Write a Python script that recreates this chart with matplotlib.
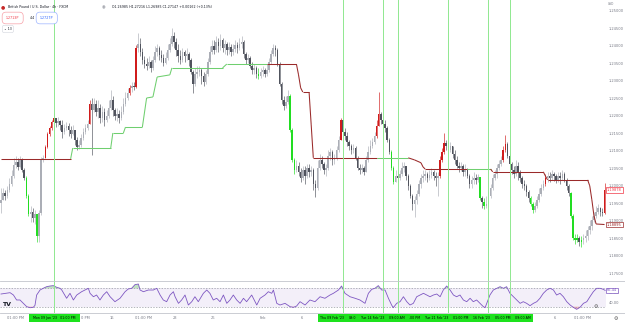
import matplotlib
matplotlib.use('Agg')
import matplotlib.pyplot as plt
import matplotlib.transforms as mtransforms
from matplotlib.patches import Rectangle

# ---------------- data ----------------
first_open = 1.1950
closes = [1.1960, 1.1980, 1.1971, 1.1988, 1.2005, 1.2028, 1.2060, 1.2068, 1.2054, 1.2074,
          1.2045, 1.2022, 1.1971, 1.1920, 1.1925, 1.1908, 1.1920, 1.1857, 1.1922, 1.2074,
          1.2080, 1.2111, 1.2148, 1.2165, 1.2182, 1.2194, 1.2180, 1.2185, 1.2174, 1.2154,
          1.2165, 1.2171, 1.2160, 1.2148, 1.2160, 1.2131, 1.2111, 1.2117, 1.2137, 1.2154,
          1.2165, 1.2177, 1.2234, 1.2217, 1.2234, 1.2211, 1.2222, 1.2194, 1.2211, 1.2188,
          1.2200, 1.2222, 1.2245, 1.2217, 1.2200, 1.2205, 1.2194, 1.2211, 1.2234, 1.2251,
          1.2265, 1.2280, 1.2285, 1.2282, 1.2394, 1.2405, 1.2382, 1.2360, 1.2348, 1.2342,
          1.2354, 1.2337, 1.2360, 1.2382, 1.2394, 1.2374, 1.2365, 1.2351, 1.2365, 1.2388,
          1.2405, 1.2428, 1.2411, 1.2388, 1.2371, 1.2360, 1.2382, 1.2371, 1.2377, 1.2360,
          1.2325, 1.2291, 1.2320, 1.2325, 1.2331, 1.2314, 1.2297, 1.2320, 1.2354, 1.2382,
          1.2400, 1.2388, 1.2411, 1.2400, 1.2417, 1.2394, 1.2405, 1.2388, 1.2397, 1.2382,
          1.2391, 1.2402, 1.2394, 1.2405, 1.2411, 1.2377, 1.2360, 1.2365, 1.2342, 1.2331,
          1.2337, 1.2320, 1.2314, 1.2325, 1.2331, 1.2320, 1.2331, 1.2354, 1.2377, 1.2394,
          1.2388, 1.2348, 1.2291, 1.2245, 1.2228, 1.2240, 1.2257, 1.2160, 1.2074, 1.2045,
          1.2057, 1.2040, 1.2022, 1.2045, 1.2028, 1.2051, 1.2040, 1.2045, 1.2005, 1.1994,
          1.2051, 1.2074, 1.2062, 1.2045, 1.2051, 1.2085, 1.2097, 1.2074, 1.2080, 1.2102,
          1.2131, 1.2188, 1.2154, 1.2142, 1.2125, 1.2114, 1.2102, 1.2108, 1.2080, 1.2051,
          1.2045, 1.2051, 1.2040, 1.2074, 1.2097, 1.2114, 1.2125, 1.2142, 1.2171, 1.2205,
          1.2188, 1.2177, 1.2165, 1.2131, 1.2097, 1.2051, 1.2011, 1.2028, 1.2022, 1.2034,
          1.2051, 1.2057, 1.2028, 1.2000, 1.1971, 1.1948, 1.1960, 1.1977, 1.2005, 1.2022,
          1.2028, 1.2034, 1.2022, 1.2031, 1.2040, 1.2028, 1.2022, 1.2028, 1.2074, 1.2097,
          1.2122, 1.2114, 1.2102, 1.2114, 1.2091, 1.2074, 1.2057, 1.2051, 1.2057, 1.2040,
          1.2045, 1.2028, 1.2005, 1.2017, 1.2022, 1.2017, 1.2025, 1.1965, 1.1954, 1.1942,
          1.1948, 1.1971, 1.1994, 1.2022, 1.2034, 1.2051, 1.2062, 1.2074, 1.2102, 1.2120,
          1.2085, 1.2062, 1.2045, 1.2034, 1.2057, 1.2040, 1.2022, 1.2005, 1.2000, 1.1982,
          1.1965, 1.1948, 1.1931, 1.1942, 1.1960, 1.1977, 1.1994, 1.2005, 1.2022, 1.2028,
          1.2022, 1.2034, 1.2028, 1.2017, 1.2028, 1.2022, 1.2034, 1.2017, 1.2000, 1.1980,
          1.1914, 1.1851, 1.1846, 1.1851, 1.1840, 1.1846, 1.1851, 1.1857, 1.1874, 1.1885,
          1.1902, 1.1914, 1.1925, 1.1937, 1.1925, 1.1922, 1.19878]
highs = [1.1994, 1.1994, 1.1988, 1.2000, 1.2022, 1.2045, 1.2080, 1.2085, 1.2080, 1.2085,
         1.2080, 1.2051, 1.2028, 1.1977, 1.1942, 1.1937, 1.1931, 1.1920, 1.1931, 1.2082,
         1.2088, 1.2117, 1.2154, 1.2171, 1.2188, 1.2208, 1.2194, 1.2197, 1.2188, 1.2188,
         1.2177, 1.2182, 1.2180, 1.2171, 1.2174, 1.2160, 1.2140, 1.2131, 1.2148, 1.2165,
         1.2177, 1.2188, 1.2245, 1.2251, 1.2251, 1.2245, 1.2245, 1.2234, 1.2228, 1.2222,
         1.2217, 1.2245, 1.2274, 1.2257, 1.2222, 1.2222, 1.2217, 1.2228, 1.2251, 1.2268,
         1.2280, 1.2288, 1.2297, 1.2297, 1.2402, 1.2437, 1.2422, 1.2394, 1.2371, 1.2365,
         1.2371, 1.2360, 1.2371, 1.2400, 1.2405, 1.2400, 1.2388, 1.2377, 1.2382, 1.2405,
         1.2422, 1.2451, 1.2440, 1.2422, 1.2405, 1.2388, 1.2394, 1.2388, 1.2394, 1.2382,
         1.2365, 1.2331, 1.2337, 1.2342, 1.2342, 1.2337, 1.2325, 1.2331, 1.2365, 1.2400,
         1.2417, 1.2417, 1.2428, 1.2422, 1.2434, 1.2422, 1.2417, 1.2411, 1.2411, 1.2405,
         1.2405, 1.2417, 1.2411, 1.2422, 1.2428, 1.2417, 1.2382, 1.2377, 1.2371, 1.2354,
         1.2348, 1.2342, 1.2337, 1.2337, 1.2342, 1.2337, 1.2348, 1.2365, 1.2388, 1.2405,
         1.2402, 1.2394, 1.2354, 1.2297, 1.2257, 1.2257, 1.2274, 1.2262, 1.2165, 1.2080,
         1.2074, 1.2068, 1.2051, 1.2057, 1.2057, 1.2062, 1.2062, 1.2057, 1.2051, 1.2017,
         1.2074, 1.2091, 1.2085, 1.2068, 1.2062, 1.2102, 1.2108, 1.2102, 1.2091, 1.2114,
         1.2142, 1.2194, 1.2188, 1.2165, 1.2154, 1.2131, 1.2120, 1.2120, 1.2114, 1.2085,
         1.2062, 1.2062, 1.2057, 1.2085, 1.2114, 1.2131, 1.2137, 1.2154, 1.2188, 1.2268,
         1.2211, 1.2200, 1.2188, 1.2171, 1.2137, 1.2102, 1.2057, 1.2045, 1.2040, 1.2045,
         1.2068, 1.2068, 1.2057, 1.2034, 1.2005, 1.1977, 1.1971, 1.1988, 1.2017, 1.2034,
         1.2045, 1.2045, 1.2040, 1.2045, 1.2051, 1.2045, 1.2040, 1.2040, 1.2085, 1.2108,
         1.2151, 1.2131, 1.2125, 1.2125, 1.2114, 1.2102, 1.2085, 1.2068, 1.2068, 1.2062,
         1.2062, 1.2051, 1.2034, 1.2028, 1.2040, 1.2034, 1.2034, 1.2022, 1.1971, 1.1965,
         1.1971, 1.1982, 1.2005, 1.2034, 1.2045, 1.2062, 1.2074, 1.2085, 1.2114, 1.2145,
         1.2125, 1.2091, 1.2068, 1.2057, 1.2074, 1.2068, 1.2045, 1.2028, 1.2017, 1.2005,
         1.1988, 1.1971, 1.1954, 1.1954, 1.1971, 1.1994, 1.2005, 1.2017, 1.2034, 1.2040,
         1.2040, 1.2045, 1.2040, 1.2034, 1.2040, 1.2040, 1.2045, 1.2040, 1.2022, 1.2005,
         1.1982, 1.1920, 1.1862, 1.1862, 1.1857, 1.1857, 1.1862, 1.1874, 1.1885, 1.1902,
         1.1914, 1.1925, 1.1942, 1.1948, 1.1940, 1.1937, 1.2008]
lows = [1.1922, 1.1960, 1.1960, 1.1965, 1.1982, 1.2000, 1.2022, 1.2051, 1.2045, 1.2051,
        1.2040, 1.2017, 1.1965, 1.1914, 1.1897, 1.1897, 1.1891, 1.1840, 1.1840, 1.1917,
        1.2068, 1.2080, 1.2108, 1.2142, 1.2160, 1.2177, 1.2168, 1.2171, 1.2160, 1.2137,
        1.2148, 1.2160, 1.2142, 1.2137, 1.2145, 1.2117, 1.2102, 1.2105, 1.2111, 1.2131,
        1.2148, 1.2160, 1.2177, 1.2088, 1.2211, 1.2200, 1.2194, 1.2180, 1.2182, 1.2171,
        1.2182, 1.2194, 1.2217, 1.2200, 1.2188, 1.2185, 1.2180, 1.2188, 1.2205, 1.2228,
        1.2245, 1.2260, 1.2268, 1.2274, 1.2280, 1.2382, 1.2371, 1.2348, 1.2337, 1.2331,
        1.2337, 1.2325, 1.2331, 1.2354, 1.2371, 1.2360, 1.2354, 1.2342, 1.2348, 1.2360,
        1.2382, 1.2400, 1.2394, 1.2371, 1.2354, 1.2348, 1.2354, 1.2354, 1.2360, 1.2342,
        1.2320, 1.2265, 1.2285, 1.2308, 1.2314, 1.2291, 1.2285, 1.2291, 1.2314, 1.2348,
        1.2377, 1.2377, 1.2382, 1.2382, 1.2388, 1.2382, 1.2377, 1.2374, 1.2377, 1.2371,
        1.2374, 1.2382, 1.2380, 1.2388, 1.2394, 1.2365, 1.2348, 1.2351, 1.2337, 1.2320,
        1.2320, 1.2308, 1.2305, 1.2308, 1.2314, 1.2311, 1.2314, 1.2325, 1.2348, 1.2371,
        1.2371, 1.2342, 1.2285, 1.2234, 1.2217, 1.2222, 1.2234, 1.2154, 1.2068, 1.2034,
        1.2040, 1.2028, 1.2011, 1.2017, 1.2005, 1.2022, 1.2025, 1.2028, 1.1988, 1.1968,
        1.1988, 1.2045, 1.2051, 1.2034, 1.2028, 1.2045, 1.2074, 1.2060, 1.2062, 1.2074,
        1.2097, 1.2131, 1.2148, 1.2131, 1.2114, 1.2102, 1.2091, 1.2094, 1.2074, 1.2045,
        1.2034, 1.2037, 1.2031, 1.2040, 1.2068, 1.2091, 1.2108, 1.2120, 1.2137, 1.2171,
        1.2177, 1.2165, 1.2154, 1.2125, 1.2091, 1.2045, 1.2005, 1.2011, 1.2011, 1.2017,
        1.2028, 1.2040, 1.2017, 1.1988, 1.1965, 1.1931, 1.1911, 1.1948, 1.1971, 1.1994,
        1.2011, 1.2017, 1.2011, 1.2017, 1.2022, 1.2017, 1.2000, 1.1971, 1.2022, 1.2068,
        1.2091, 1.2102, 1.2097, 1.2097, 1.2080, 1.2062, 1.2051, 1.2040, 1.2042, 1.2028,
        1.2028, 1.2022, 1.1994, 1.1994, 1.2005, 1.2005, 1.2011, 1.1960, 1.1937, 1.1934,
        1.1937, 1.1942, 1.1965, 1.1988, 1.2017, 1.2022, 1.2045, 1.2057, 1.2068, 1.2097,
        1.2080, 1.2051, 1.2034, 1.2022, 1.2028, 1.2017, 1.2011, 1.1994, 1.1988, 1.1971,
        1.1954, 1.1942, 1.1922, 1.1925, 1.1937, 1.1954, 1.1971, 1.1988, 1.2000, 1.2011,
        1.2011, 1.2017, 1.2014, 1.2008, 1.2011, 1.2005, 1.2017, 1.2011, 1.1988, 1.1971,
        1.1908, 1.1846, 1.1834, 1.1840, 1.1828, 1.1825, 1.1834, 1.1840, 1.1846, 1.1862,
        1.1874, 1.1897, 1.1908, 1.1920, 1.1914, 1.1914, 1.1920]

# bars painted by the bar-colour indicator
red_bars = [21, 22, 23, 24, 25, 42, 61, 64, 161, 178, 179, 208, 209, 210, 238, 239, 258, 286]
green_bars = [12, 13, 17, 122, 137, 138, 139, 185, 186, 227, 229, 251, 252, 270, 271, 272, 273, 275]

# trailing stop line (bar, price) and colour of the segment that starts there
trail_bars = [0, 33, 34, 52, 53, 58, 59, 67, 69, 72, 74, 80, 81, 105, 107, 126, 140, 141, 142, 143,
              146, 147, 148, 178, 193, 196, 199, 200, 201, 221, 232, 233, 257, 258, 259, 278, 279,
              280, 281, 282, 286]
trail_prices = [1.2077, 1.2077, 1.2108, 1.2108, 1.2151, 1.2151, 1.2168, 1.2168, 1.2251, 1.2254,
                1.2311, 1.2317, 1.2337, 1.2337, 1.2348, 1.2348, 1.2348, 1.2317, 1.2280, 1.2268,
                1.2268, 1.2174, 1.2080, 1.2080, 1.2080, 1.2074, 1.2066, 1.2054, 1.2048, 1.2048,
                1.2048, 1.2040, 1.2040, 1.2028, 1.2017, 1.2017, 1.2000, 1.1960, 1.1914, 1.1891,
                1.18895]
trail_colors = ['m', 'g', 'g', 'g', 'g', 'g', 'g', 'g', 'g', 'g', 'g', 'g', 'g', 'g', 'g', 'm',
                'm', 'm', 'm', 'm', 'm', 'm', 'm', 'g', 'm', 'm', 'm', 'm', 'm', 'g', 'm', 'm',
                'm', 'm', 'm', 'm', 'm', 'm', 'm', 'm', 'm']

# RSI
rsi_bars = [0, 4.3, 5.9, 7.4, 9, 10.6, 12.2, 13.8, 15.3, 16.1, 16.9, 18.5, 20, 21.6, 23.2, 24.8,
            26.4, 28, 28.8, 31.1, 32.7, 34.3, 35.9, 38.2, 39.8, 41.4, 42.2, 43.8, 45.3, 46.9,
            48.5, 50.1, 51.7, 54, 56.4, 58.8, 60.3, 61.9, 63.5, 65.1, 65.9, 67.5, 69.8, 72.2,
            73.8, 75.4, 76.9, 78.5, 80.1, 81.7, 82.5, 84.1, 85.6, 87.2, 88.8, 90.4, 91.9, 93.5,
            95.9, 97.5, 99, 100.6, 102.2, 103.8, 105.4, 107, 108.5, 110.1, 111.7, 113.3, 114.9,
            116.4, 118.8, 121.2, 122.8, 125.1, 126.7, 128.3, 129.1, 130.7, 132.2, 134.6, 137,
            138.6, 140.1, 141.7, 144.1, 146.4, 148.8, 151.2, 153.5, 155.9, 157.5, 159.9, 161.4,
            163, 165.4, 167.8, 170.1, 172.5, 174.1, 175.7, 177.2, 178.8, 180.4, 182, 183.6,
            185.1, 185.9, 187.5, 189.1, 190.7, 192.3, 193.8, 195.4, 197, 198.6, 200.2, 201.7,
            203.3, 204.9, 206.5, 208.1, 209.6, 211.2, 212.8, 214.4, 215.9, 217.5, 219.1, 220.7,
            222.3, 223.8, 225.4, 227, 228.6, 229.4, 230.2, 231.7, 233.3, 234.9, 236.5, 238.1,
            239.6, 241.2, 242.8, 244.4, 246, 247.5, 249.1, 250.7, 252.3, 253.9, 255.4, 257,
            258.6, 260.2, 261.8, 263.3, 264.9, 266.5, 268.1, 269.7, 271.2, 272.8, 274.4, 276,
            277.6, 279.1, 280.7, 282.3, 283.9, 285.4, 286.3]
rsi_vals = [57.6, 60.5, 55.4, 44.6, 44.6, 37.3, 30.0, 27.8, 28.6, 32.9, 55.4, 66.3, 70.0, 73.5,
            75.0, 75.8, 72.2, 70.0, 66.3, 48.3, 59.1, 44.6, 55.4, 62.6, 66.3, 70.0, 59.1, 51.7,
            55.4, 44.6, 55.4, 62.6, 51.7, 40.9, 48.3, 62.6, 68.5, 70.0, 78.0, 79.3, 66.3, 62.6,
            66.3, 66.3, 70.0, 55.4, 44.6, 40.9, 55.4, 62.6, 51.7, 37.3, 44.6, 55.4, 33.7, 40.9,
            51.7, 40.9, 59.1, 66.3, 59.1, 44.6, 48.3, 40.9, 55.4, 37.3, 44.6, 55.4, 44.6, 37.3,
            48.3, 40.9, 55.4, 33.7, 48.3, 55.4, 62.6, 59.1, 66.3, 37.3, 33.7, 37.3, 30.0, 28.6,
            31.5, 40.9, 33.7, 44.6, 40.9, 51.7, 48.3, 55.4, 59.1, 66.3, 75.0, 59.1, 51.7, 48.3,
            44.6, 37.3, 59.1, 67.8, 70.0, 75.8, 66.3, 66.3, 48.3, 33.7, 27.8, 37.3, 40.9, 51.7,
            40.9, 33.7, 37.3, 51.7, 55.4, 59.1, 55.4, 51.7, 55.4, 57.6, 51.7, 66.3, 75.0, 66.3,
            55.4, 51.7, 55.4, 44.6, 40.9, 48.3, 40.9, 44.6, 37.3, 30.0, 27.8, 37.3, 55.4, 66.3,
            70.0, 73.5, 70.0, 73.5, 59.1, 51.7, 44.6, 37.3, 40.9, 37.3, 32.2, 37.3, 40.9, 48.3,
            59.1, 66.3, 70.0, 66.3, 55.4, 59.1, 51.7, 40.9, 33.7, 28.6, 24.3, 28.6, 37.3, 40.9,
            51.7, 62.6, 70.0, 70.0, 67.8, 65.44]

event_bars = [25, 162, 181, 188, 212, 231, 241]
price_ticks = [1.175, 1.18, 1.185, 1.19, 1.195, 1.2, 1.205, 1.21, 1.215, 1.22, 1.225, 1.23,
               1.235, 1.24, 1.245, 1.25]
rsi_ticks = [40, 60]
time_tick_bars = [7, 52.6, 67.3, 82.5, 100.3, 124.2, 142.7, 262.6, 275.8]
time_tick_labels = ['01:00 PM', '16', '01:00 PM', '23', '26', 'Feb', '6', '6', '01:00 PM']
first_event_label = "Mon 09 Jan '23   01:00 PM"
event_fragments = ["Thu 09 Feb '23", "09:0", "Tue 14 Feb '23", "09:00 AM", ".00 PM",
                   "Tue 21 Feb '23", "01:00 PM", "16 Feb '23", "05:00 PM", "09:00 AM"]

# ---------------- style ----------------
W, H = 625, 323
UP, DOWN = '#abaeb6', '#50535d'
RED, LIME = '#d01c1c', '#22dd22'
MAROON, TRAIL_G = '#9a2a2a', '#6fcf6f'
PURPLE = '#7e57c2'
AXTXT = '#787b86'
EV_GREEN = '#1de21d'
FS = 2.6
HFS = 2.3

fig = plt.figure(figsize=(W / 100, H / 100), dpi=100)
fig.patch.set_facecolor('white')


def px(x):
    return x / W


def py(y):
    return 1 - y / H


plot_w = 606 / W
ax = fig.add_axes([0, py(281), plot_w, 281 / H])
rx = fig.add_axes([0, py(313), plot_w, 32 / H])

n = len(closes)
idx = list(range(n))
opens = [first_open] + closes[:-1]

cols = []
for i in idx:
    if i in red_bars:
        cols.append(RED)
    elif i in green_bars:
        cols.append(LIME)
    elif closes[i] >= opens[i]:
        cols.append(UP)
    else:
        cols.append(DOWN)

ax.vlines(idx, lows, highs, colors=cols, linewidth=0.45)
bottoms = [min(o, c) for o, c in zip(opens, closes)]
heights = [max(abs(c - o), 0.00012) for o, c in zip(opens, closes)]
ax.bar(idx, heights, bottom=bottoms, width=0.72, color=cols, linewidth=0)

# trailing stop
for k in range(len(trail_bars) - 1):
    c = MAROON if trail_colors[k] == 'm' else TRAIL_G
    ax.plot(trail_bars[k:k + 2], trail_prices[k:k + 2], color=c, linewidth=0.75,
            solid_capstyle='butt')

xl = (-0.47, 286.7)
ax.set_xlim(*xl)
ax.set_ylim(1.17281, 1.2531)
ax.yaxis.tick_right()
ax.set_yticks(price_ticks)
ax.set_yticklabels(['%.5f' % t for t in price_ticks])
ax.tick_params(axis='y', length=0, pad=2, labelsize=FS, labelcolor=AXTXT)
ax.set_xticks([])
for s in ax.spines.values():
    s.set_visible(False)

# RSI pane
rx.set_xlim(*xl)
rx.set_ylim(16.3, 85.9)
rx.axhspan(30, 70, color=PURPLE, alpha=0.09, linewidth=0)
rx.axhline(70, color='#9598a1', linewidth=0.5, linestyle=(0, (2, 2)))
rx.axhline(30, color='#9598a1', linewidth=0.5, linestyle=(0, (2, 2)))
rx.fill_between(rsi_bars, rsi_vals, 70, where=[v > 70 for v in rsi_vals], interpolate=True,
                color='#4caf50', alpha=0.35, linewidth=0)
rx.fill_between(rsi_bars, rsi_vals, 30, where=[v < 30 for v in rsi_vals], interpolate=True,
                color='#f23645', alpha=0.35, linewidth=0)
rx.plot(rsi_bars, rsi_vals, color=PURPLE, linewidth=0.6)
rx.yaxis.tick_right()
rx.set_yticks(rsi_ticks)
rx.set_yticklabels(['%.2f' % t for t in rsi_ticks])
rx.tick_params(axis='y', length=0, pad=2, labelsize=FS, labelcolor=AXTXT)
rx.set_xticks([])
for s in rx.spines.values():
    s.set_visible(False)

# event lines through both panes
for b in event_bars:
    ax.axvline(b, color='#8fe88f', linewidth=0.7)
    rx.axvline(b, color='#8fe88f', linewidth=0.7)

# pane separators
fig.add_artist(plt.Line2D([0, 1], [py(281), py(281)], color='#c3c5cc', linewidth=0.6))
fig.add_artist(plt.Line2D([0, 1], [py(313), py(313)], color='#c3c5cc', linewidth=0.6))

# time axis
tx = mtransforms.blended_transform_factory(ax.transData, fig.transFigure)
ty = py(318)
for b, lab in zip(time_tick_bars, time_tick_labels):
    fig.text(b, ty, lab, transform=tx, ha='center', va='center', fontsize=FS, color=AXTXT)
fig.text(px(81), ty, '0 PM', ha='left', va='center', fontsize=FS, color=AXTXT)

# highlighted event labels on the time axis
fig.add_artist(Rectangle((px(29), py(322)), px(51), 8 / H, color=EV_GREEN, linewidth=0))
fig.text(px(54.5), ty, first_event_label, ha='center', va='center', fontsize=HFS, color='black')

box_l, box_r = 318, 533
fig.add_artist(Rectangle((px(box_l), py(322)), px(box_r - box_l), 8 / H, color=EV_GREEN,
                         linewidth=0))
renderer = fig.canvas.get_renderer()
frags = [fig.text(0, ty, t, ha='left', va='center', fontsize=HFS, color='black')
         for t in event_fragments]
widths = [f.get_window_extent(renderer).width for f in frags]
gap = (box_r - box_l - 4 - sum(widths)) / (len(frags) - 1)
x = box_l + 2
for f, w in zip(frags, widths):
    f.set_x(px(x))
    x += w + gap

# price scale labels
def price_box(yfrac, text, edge):
    fig.text(px(607), yfrac, text, ha='left', va='center', fontsize=FS, color=edge,
             bbox=dict(boxstyle='square,pad=0.25', facecolor='white', edgecolor=edge,
                       linewidth=0.5))


price_box(ax.transData.transform((0, closes[-1]))[1] / H, '%.5f' % closes[-1], '#f23645')
price_box(ax.transData.transform((0, trail_prices[-1]))[1] / H, '%.5f' % trail_prices[-1], MAROON)
price_box(rx.transData.transform((0, rsi_vals[-1]))[1] / H, '%.2f' % rsi_vals[-1], PURPLE)
fig.text(px(608), py(4), 'USD', ha='left', va='center', fontsize=2.2, color=AXTXT)

# header
fig.text(px(3), py(7), '●', ha='center', va='center', fontsize=3.5, color='#c62828')
fig.text(px(8), py(7), 'British Pound / U.S. Dollar · 4h · FXCM', ha='left', va='center',
         fontsize=HFS, color='#131722')
fig.text(px(104), py(7), '◉', ha='center', va='center', fontsize=3, color='#9598a1')
fig.text(px(112), py(7), 'O1.26985 H1.27216 L1.26985 C1.27147 +0.00162 (+0.13%)',
         ha='left', va='center', fontsize=HFS, color='#131722')
fig.text(px(6), py(18), '1.2713P', ha='left', va='center', fontsize=HFS, color='#f23645',
         bbox=dict(boxstyle='round,pad=1.2', facecolor='white', edgecolor='#f7a1a8',
                   linewidth=0.5))
fig.text(px(32), py(18), '4.4', ha='center', va='center', fontsize=HFS, color='#131722')
fig.text(px(40), py(18), '1.2727P', ha='left', va='center', fontsize=HFS, color='#2962ff',
         bbox=dict(boxstyle='round,pad=1.2', facecolor='white', edgecolor='#9db5ff',
                   linewidth=0.5))
fig.text(px(4), py(29), '⌄ 13', ha='left', va='center', fontsize=HFS, color='#131722',
         bbox=dict(boxstyle='round,pad=0.5', facecolor='white', edgecolor='#d1d4dc',
                   linewidth=0.4))

# logo and pane buttons
fig.text(px(2), py(305), 'TV', ha='left', va='center', fontsize=4.5, fontweight='bold',
         color='#131722')
fig.text(px(596), py(306), '⚙', ha='center', va='center', fontsize=3.5, color='#555')
fig.text(px(616), py(318), '⚙', ha='center', va='center', fontsize=3.5, color='#555')

fig.savefig('out.png', dpi=100, facecolor='white')
